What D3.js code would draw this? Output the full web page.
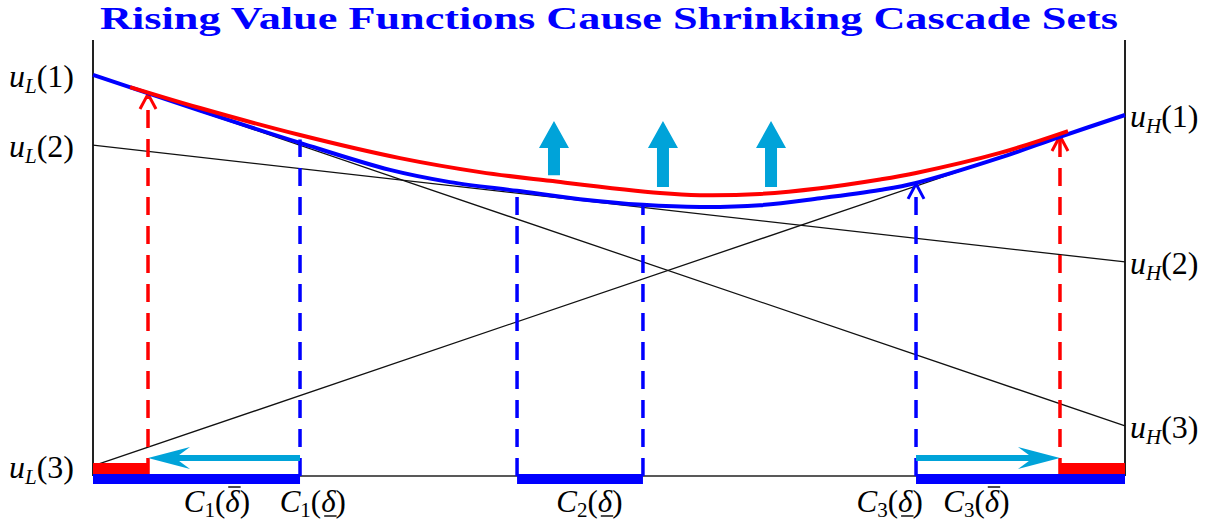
<!DOCTYPE html>
<html>
<head>
<meta charset="utf-8">
<script src="https://cdn.jsdelivr.net/npm/d3@7"></script>
<style>
  body { margin: 0; background: #fff; }
  svg text { font-family: "Liberation Serif", "DejaVu Serif", serif; }
</style>
</head>
<body>
<div id="main"></div>
<script>
// values in chart units: x 0..100 across the frame, y 0..100 from baseline to top
const title = "Rising Value Functions Cause Shrinking Cascade Sets"

// straight value lines: [left end, right end]
const valueLines = [
	{uL: 92.0, uH: 11.5},
	{uL: 75.9, uH: 49.1},
	{uL: 2.3, uH: 82.8}
]
const leftLabels = [
	{v: 92.0, sub: "L", n: "1"},
	{v: 75.9, sub: "L", n: "2"},
	{v: 2.3, sub: "L", n: "3"}
]
const rightLabels = [
	{v: 82.8, sub: "H", n: "1"},
	{v: 49.1, sub: "H", n: "2"},
	{v: 11.5, sub: "H", n: "3"}
]

// upper envelope, low delta (blue)
const envLow = [
	[0, 92.0], [10.37, 83.8], [20.06, 76.4], [28.78, 70.2], [34.59, 67.4],
	[41.09, 65.4], [47.19, 63.5], [53.29, 62.2], [58.82, 61.7], [64.63, 62.1],
	[70.45, 63.7], [76.26, 65.6], [79.75, 67.2], [87.89, 73.0], [93.7, 77.8],
	[100, 82.8]
]
// upper envelope, high delta (red)
const envHigh = [
	[3.59, 89.2], [10.37, 84.4], [20.06, 78.2], [29.75, 72.9],
	[37.5, 69.7], [44.28, 67.7], [54.94, 64.9], [58.82, 64.4], [64.63, 64.7],
	[70.45, 66.0], [76.26, 68.0], [79.75, 69.5], [87.89, 74.1], [94.48, 79.1]
]

// cascade set boundaries
const blueDrops = [
	{x: 20.06, top: 77.2, arrow: false},
	{x: 41.09, top: 65.4, arrow: false},
	{x: 53.29, top: 62.2, arrow: false},
	{x: 79.75, top: 67.0, arrow: true}
]
const redDrops = [
	{x: 5.33, top: 87.6},
	{x: 93.7, top: 78.0}
]
const blueSets = [[0, 20.06], [41.09, 53.29], [79.75, 100]]
const redSets = [[0, 5.33], [93.7, 100]]

// shrinking arrows along the baseline, and rising arrows above the curve
const shiftArrows = [
	{from: 20.06, to: 5.33, v: 4.1},
	{from: 79.75, to: 93.7, v: 4.1}
]
const riseArrows = [
	{x: 44.67, from: 69.0, to: 81.4},
	{x: 55.23, from: 66.3, to: 81.4},
	{x: 65.7, from: 66.3, to: 81.4}
]

const bottomLabels = [
	{x: 12.0, n: "1", d: "bar"},
	{x: 21.3, n: "1", d: "under"},
	{x: 48.1, n: "2", d: "under"},
	{x: 77.2, n: "3", d: "under"},
	{x: 85.6, n: "3", d: "bar"}
]

const W = 1212, H = 527
const BLUE = "#0000ff", RED = "#ff0000", CYAN = "#00a3d9"

let x = d3.scaleLinear().domain([0, 100]).range([93, 1125])
let y = d3.scaleLinear().domain([0, 100]).range([476, 40])

let svg = d3.select("#main")
	.append("svg")
		.attr("width", W)
		.attr("height", H)

// title
svg.append("text")
	.attr("x", 609)
	.attr("y", 29)
	.attr("text-anchor", "middle")
	.attr("textLength", 1018)
	.attr("lengthAdjust", "spacingAndGlyphs")
	.style("font-size", "32px")
	.style("font-weight", "bold")
	.style("fill", BLUE)
	.text(title)

// frame: two vertical axes and the baseline
svg.append("line")
	.attr("x1", x(0)).attr("x2", x(100))
	.attr("y1", y(0)).attr("y2", y(0))
	.style("stroke", "#222").style("stroke-width", 1.5)
;[0, 100].forEach(v => {
	svg.append("line")
		.attr("x1", x(v)).attr("x2", x(v))
		.attr("y1", y(100)).attr("y2", y(0))
		.style("stroke", "#222").style("stroke-width", 2)
})

// value lines
svg.selectAll(".vline")
	.data(valueLines)
	.enter()
	.append("line")
		.attr("x1", x(0)).attr("y1", d => y(d.uL))
		.attr("x2", x(100)).attr("y2", d => y(d.uH))
		.style("stroke", "#111").style("stroke-width", 1.3)

// dashed drops
svg.selectAll(".bdrop")
	.data(blueDrops)
	.enter()
	.append("line")
		.attr("x1", d => x(d.x)).attr("x2", d => x(d.x))
		.attr("y1", y(0)).attr("y2", d => y(d.top))
		.style("stroke", BLUE).style("stroke-width", 3.5)
		.style("stroke-dasharray", "18,11")

svg.selectAll(".rdrop")
	.data(redDrops)
	.enter()
	.append("line")
		.attr("x1", d => x(d.x)).attr("x2", d => x(d.x))
		.attr("y1", y(0)).attr("y2", d => y(d.top))
		.style("stroke", RED).style("stroke-width", 3.5)
		.style("stroke-dasharray", "18,11")

const chevron = (cx, cy) => `M${cx - 8},${cy + 15} L${cx},${cy} L${cx + 8},${cy + 15}`

svg.selectAll(".bhead")
	.data(blueDrops.filter(d => d.arrow))
	.enter()
	.append("path")
		.attr("d", d => chevron(x(d.x), y(d.top)))
		.style("fill", "none").style("stroke", BLUE).style("stroke-width", 3)

svg.selectAll(".rhead")
	.data(redDrops)
	.enter()
	.append("path")
		.attr("d", d => chevron(x(d.x), y(d.top)))
		.style("fill", "none").style("stroke", RED).style("stroke-width", 3)

// envelopes
let curve = d3.line()
	.x(d => x(d[0]))
	.y(d => y(d[1]))
	.curve(d3.curveCatmullRom.alpha(0.5))

svg.append("path")
	.attr("d", curve(envLow))
	.style("fill", "none").style("stroke", BLUE).style("stroke-width", 4)

svg.append("path")
	.attr("d", curve(envHigh))
	.style("fill", "none").style("stroke", RED).style("stroke-width", 4)

// cascade set bars
svg.selectAll(".bset")
	.data(blueSets)
	.enter()
	.append("rect")
		.attr("x", d => x(d[0]))
		.attr("width", d => x(d[1]) - x(d[0]))
		.attr("y", y(0) - 2)
		.attr("height", 10)
		.style("fill", BLUE)

svg.selectAll(".rset")
	.data(redSets)
	.enter()
	.append("rect")
		.attr("x", d => x(d[0]))
		.attr("width", d => x(d[1]) - x(d[0]))
		.attr("y", y(0) - 13)
		.attr("height", 11)
		.style("fill", RED)

// horizontal shift arrows
shiftArrows.forEach(a => {
	let dir = a.to < a.from ? 1 : -1
	let tx = x(a.to), ty = y(a.v)
	svg.append("line")
		.attr("x1", x(a.from)).attr("x2", tx + dir * 26)
		.attr("y1", ty).attr("y2", ty)
		.style("stroke", CYAN).style("stroke-width", 6)
	svg.append("path")
		.attr("d", `M${tx},${ty} L${tx + dir * 42},${ty - 11} L${tx + dir * 27},${ty} L${tx + dir * 42},${ty + 11} Z`)
		.style("fill", CYAN)
})

// rising block arrows
svg.selectAll(".rise")
	.data(riseArrows)
	.enter()
	.append("path")
		.attr("d", d => {
			let cx = x(d.x), b = y(d.from), t = y(d.to)
			return `M${cx - 6},${b} L${cx - 6},${t + 27} L${cx - 15},${t + 27} L${cx},${t}` +
				` L${cx + 15},${t + 27} L${cx + 6},${t + 27} L${cx + 6},${b} Z`
		})
		.style("fill", CYAN)

// math labels  u_L(n), u_H(n)
const mathLabel = (g, d) => {
	g.append("tspan").style("font-style", "italic").text("u")
	g.append("tspan").style("font-style", "italic").style("font-size", "21px")
		.attr("dy", 6).text(d.sub)
	g.append("tspan").attr("dy", -6).text("(" + d.n + ")")
}

svg.selectAll(".ll")
	.data(leftLabels)
	.enter()
	.append("text")
		.attr("x", 9)
		.attr("y", d => y(d.v) + 12)
		.style("font-size", "32px")
		.each(function(d) { mathLabel(d3.select(this), d) })

svg.selectAll(".rl")
	.data(rightLabels)
	.enter()
	.append("text")
		.attr("x", 1130)
		.attr("y", d => y(d.v) + 12)
		.style("font-size", "32px")
		.each(function(d) { mathLabel(d3.select(this), d) })

// bottom labels  C_n(delta) with bar above or line below delta
svg.selectAll(".bl")
	.data(bottomLabels)
	.enter()
	.append("text")
		.attr("x", d => x(d.x))
		.attr("y", 512)
		.attr("text-anchor", "middle")
		.style("font-size", "31px")
		.each(function(d) {
			let g = d3.select(this)
			g.append("tspan").style("font-style", "italic").text("C")
			g.append("tspan").style("font-size", "21px").attr("dy", 5).text(d.n)
			g.append("tspan").attr("dy", -5).text("(")
			g.append("tspan").style("font-style", "italic").text("\u03B4")
			g.append("tspan").text(")")
			let box = this.getExtentOfChar(3)
			let ly = d.d == "bar" ? 487 : 516
			svg.append("line")
				.attr("x1", box.x + 3).attr("x2", box.x + box.width + 1)
				.attr("y1", ly).attr("y2", ly)
				.style("stroke", "#000").style("stroke-width", 1.4)
		})
</script>
</body>
</html>
